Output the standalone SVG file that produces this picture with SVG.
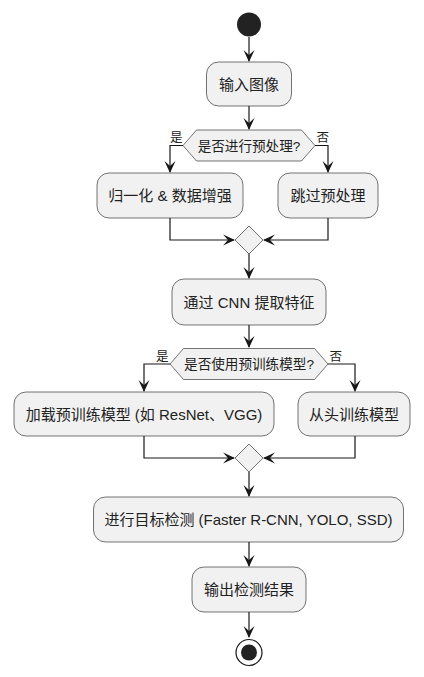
<svg xmlns="http://www.w3.org/2000/svg" width="424" height="677" viewBox="0 0 424 677">
<style>
.box{fill:#F1F1F1;stroke:#181818;stroke-width:0.6}
.t{font-family:"Liberation Sans","Noto Sans CJK SC",sans-serif;font-size:15px;fill:#222;text-anchor:middle}
.d{font-family:"Liberation Sans","Noto Sans CJK SC",sans-serif;font-size:13.6px;fill:#222;text-anchor:middle}
.l{font-family:"Liberation Sans","Noto Sans CJK SC",sans-serif;font-size:12.5px;fill:#222}
.ln{fill:none;stroke:#181818;stroke-width:1.2}
.ah{fill:#181818;stroke:none}
</style>
<defs>
<path id="arr" d="M0,0 L-5.5,-12 L0,-7 L5.5,-12 Z"/>
</defs>
<g id="connectors">
<path class="ln" d="M249,37 V61"/>
<use href="#arr" class="ah" transform="translate(249,62)"/>
<path class="ln" d="M249,106 V129"/>
<use href="#arr" class="ah" transform="translate(249,130)"/>
<path class="ln" d="M183,145.5 H170 V172"/>
<use href="#arr" class="ah" transform="translate(170,173)"/>
<path class="ln" d="M315,145.5 H328 V172"/>
<use href="#arr" class="ah" transform="translate(328,173)"/>
<path class="ln" d="M170,218 V240 H234"/>
<use href="#arr" class="ah" transform="translate(235,240) rotate(-90)"/>
<path class="ln" d="M328,218 V240 H264"/>
<use href="#arr" class="ah" transform="translate(263,240) rotate(90)"/>
<path class="ln" d="M249,254 V278"/>
<use href="#arr" class="ah" transform="translate(249,279)"/>
<path class="ln" d="M249,325 V347"/>
<use href="#arr" class="ah" transform="translate(249,348)"/>
<path class="ln" d="M170,364 H144 V391"/>
<use href="#arr" class="ah" transform="translate(144,392)"/>
<path class="ln" d="M328,364 H355 V391"/>
<use href="#arr" class="ah" transform="translate(355,392)"/>
<path class="ln" d="M144,436 V458 H234"/>
<use href="#arr" class="ah" transform="translate(235,458) rotate(-90)"/>
<path class="ln" d="M355,436 V458 H264"/>
<use href="#arr" class="ah" transform="translate(263,458) rotate(90)"/>
<path class="ln" d="M249,472 V496"/>
<use href="#arr" class="ah" transform="translate(249,497)"/>
<path class="ln" d="M249,542 V566"/>
<use href="#arr" class="ah" transform="translate(249,567)"/>
<path class="ln" d="M249,612 V637"/>
<use href="#arr" class="ah" transform="translate(249,638)"/>
</g>
<g id="start"><circle cx="249" cy="24.5" r="12" fill="#222"/></g>
<g id="n1">
<rect class="box" x="206.5" y="62" width="85" height="44" rx="12"/>
<text class="t" x="249" y="89.5">输入图像</text>
</g>
<g id="dec1">
<polygon class="box" points="183,145.5 196.5,130 301.5,130 315,145.5 301.5,161 196.5,161"/>
<text class="d" x="249" y="150.5">是否进行预处理?</text>
<text class="l" x="170" y="142">是</text>
<text class="l" x="316.5" y="142">否</text>
</g>
<g id="n2">
<rect class="box" x="97" y="173" width="146" height="45" rx="12"/>
<text class="t" x="170" y="201">归一化 &amp; 数据增强</text>
</g>
<g id="n3">
<rect class="box" x="278" y="173" width="100" height="45" rx="12"/>
<text class="t" x="328" y="201">跳过预处理</text>
</g>
<g id="merge1">
<polygon class="box" points="249,226 263,240 249,254 235,240"/>
</g>
<g id="n4">
<rect class="box" x="172" y="279" width="154" height="46" rx="12"/>
<text class="t" x="249" y="307.5">通过 CNN 提取特征</text>
</g>
<g id="dec2">
<polygon class="box" points="170,364 183.5,348.5 314.5,348.5 328,364 314.5,379.5 183.5,379.5"/>
<text class="d" x="249" y="369">是否使用预训练模型?</text>
<text class="l" x="156" y="360.5">是</text>
<text class="l" x="329.5" y="360.5">否</text>
</g>
<g id="n5">
<rect class="box" x="14" y="392" width="260" height="44" rx="12"/>
<text class="t" x="144" y="419.5">加载预训练模型 (如 ResNet、VGG)</text>
</g>
<g id="n6">
<rect class="box" x="298" y="392" width="112" height="44" rx="12"/>
<text class="t" x="354" y="419.5">从头训练模型</text>
</g>
<g id="merge2">
<polygon class="box" points="249,444 263,458 249,472 235,458"/>
</g>
<g id="n7">
<rect class="box" x="93.5" y="497" width="310" height="45" rx="12"/>
<text class="t" x="248.5" y="525">进行目标检测 (Faster R-CNN, YOLO, SSD)</text>
</g>
<g id="n8">
<rect class="box" x="192" y="567" width="114" height="45" rx="12"/>
<text class="t" x="249" y="595">输出检测结果</text>
</g>
<g id="end">
<circle cx="249" cy="652.5" r="13" fill="none" stroke="#181818" stroke-width="1.2"/>
<circle cx="249" cy="652.5" r="8" fill="#222"/>
</g>
</svg>
